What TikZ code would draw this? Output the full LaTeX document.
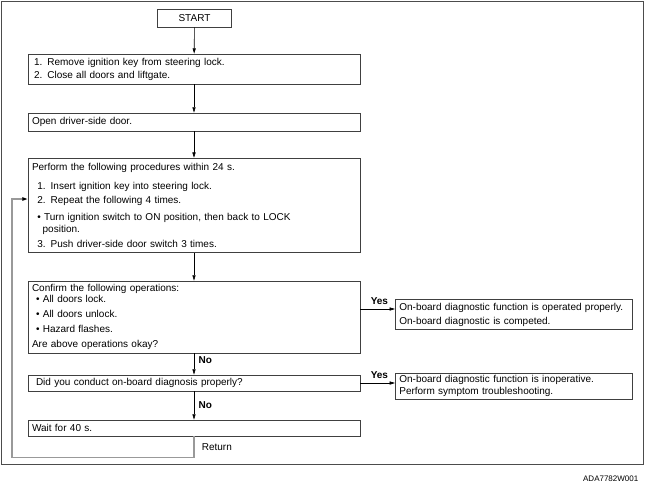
\documentclass[tikz,border=0pt]{standalone}
\usepackage{fontspec}
\setmainfont{Liberation Sans}
\usepackage{tikz}
\usetikzlibrary{positioning, arrows.meta, calc}

\begin{document}
\begin{tikzpicture}[
  x=0.75pt, y=-0.75pt,
  font=\fontsize{7.5}{8.25}\selectfont,
  plainbox/.style={draw=black!75, line width=0.6pt, inner xsep=3pt, inner ysep=1pt},
  stepbox/.style={plainbox, align=left, text width=243pt},
  sidebox/.style={stepbox, text width=172pt},
  arrow/.style={-{Triangle[length=4pt,width=2.4pt]}, line width=0.45pt},
  backline/.style={draw=black!40, line width=1.1pt,
                   -{Triangle[length=4pt,width=2.6pt,color=black]}},
  answer/.style={font=\fontsize{7.5}{8.25}\selectfont\bfseries}
]
\useasboundingbox (0,0) rectangle (645,493);

% ── Frame ─────────────────────────────────────────────────
\draw[black!70, line width=0.7pt] (1,1) rectangle (643,464);
\node[anchor=east, font=\fontsize{6}{7}\selectfont] (code) at (643,479) {ADA7782W001};

% ── Main column ───────────────────────────────────────────
\node[plainbox, minimum width=56pt, minimum height=13.5pt] (start) at (194.5,18) {START};
\node[stepbox, minimum height=22.5pt] (remove) at (194,69)
  {\hspace{1.5pt}1. Remove ignition key from steering lock.\\[1.5pt]
   \hspace{1.5pt}2. Close all doors and liftgate.};
\node[stepbox, minimum height=13.5pt] (door) at (194,122) {Open driver-side door.};
\node[stepbox, minimum height=71pt] (proc) at (194,205.5)
  {Perform the following procedures within 24 s.\\[6pt]
   \hspace{4pt}1. Insert ignition key into steering lock.\\[2.25pt]
   \hspace{4pt}2. Repeat the following 4 times.\\[4.5pt]
   \hspace{4pt}\textbullet\ Turn ignition switch to ON position, then back to LOCK\\[0.75pt]
   \hspace{8pt}position.\\[3pt]
   \hspace{4pt}3. Push driver-side door switch 3 times.};
\node[stepbox, minimum height=54pt] (confirm) at (194,317)
  {Confirm the following operations:\\
   \hspace{3pt}\textbullet\ All doors lock.\\[3pt]
   \hspace{3pt}\textbullet\ All doors unlock.\\[3pt]
   \hspace{3pt}\textbullet\ Hazard flashes.\\[3pt]
   Are above operations okay?};
\node[stepbox, minimum height=12pt] (diag) at (194,383)
  {\hspace{3pt}Did you conduct on-board diagnosis properly?};
\node[stepbox, minimum height=12pt] (wait) at (194,428) {Wait for 40 s.};

% ── Results ───────────────────────────────────────────────
\node[sidebox, minimum height=23pt] (okres) at (514,314.5)
  {On-board diagnostic function is operated properly.\\[2.25pt]
   On-board diagnostic is competed.};
\node[sidebox, minimum height=19.5pt] (inop) at (514,386)
  {On-board diagnostic function is inoperative.\\[0.75pt]
   Perform symptom troubleshooting.};

% ── Arrows ────────────────────────────────────────────────
\draw[arrow] (start)  -- (remove);
\draw[arrow] (remove) -- (door);
\draw[arrow] (door)   -- (proc);
\draw[arrow] (proc)   -- (confirm);
\draw[arrow] (confirm) -- node[answer, right, pos=0.3] {No} (diag);
\draw[arrow] (diag)    -- node[answer, right] {No} (wait);

\coordinate (yes1) at (0,309);
\draw[arrow] (confirm.east |- yes1) -- node[answer, above, pos=0.55] {Yes} (okres.west |- yes1);
\draw[arrow] (diag.east) -- node[answer, above, pos=0.55] {Yes} (inop.west |- diag.east);

% ── Return loop ───────────────────────────────────────────
\coordinate (back) at (12,199);
\draw[backline] (wait.south) -- node[right, xshift=2pt] {Return} ++(0,21) -| (back) -- (proc.west |- back);

\end{tikzpicture}
\end{document}
